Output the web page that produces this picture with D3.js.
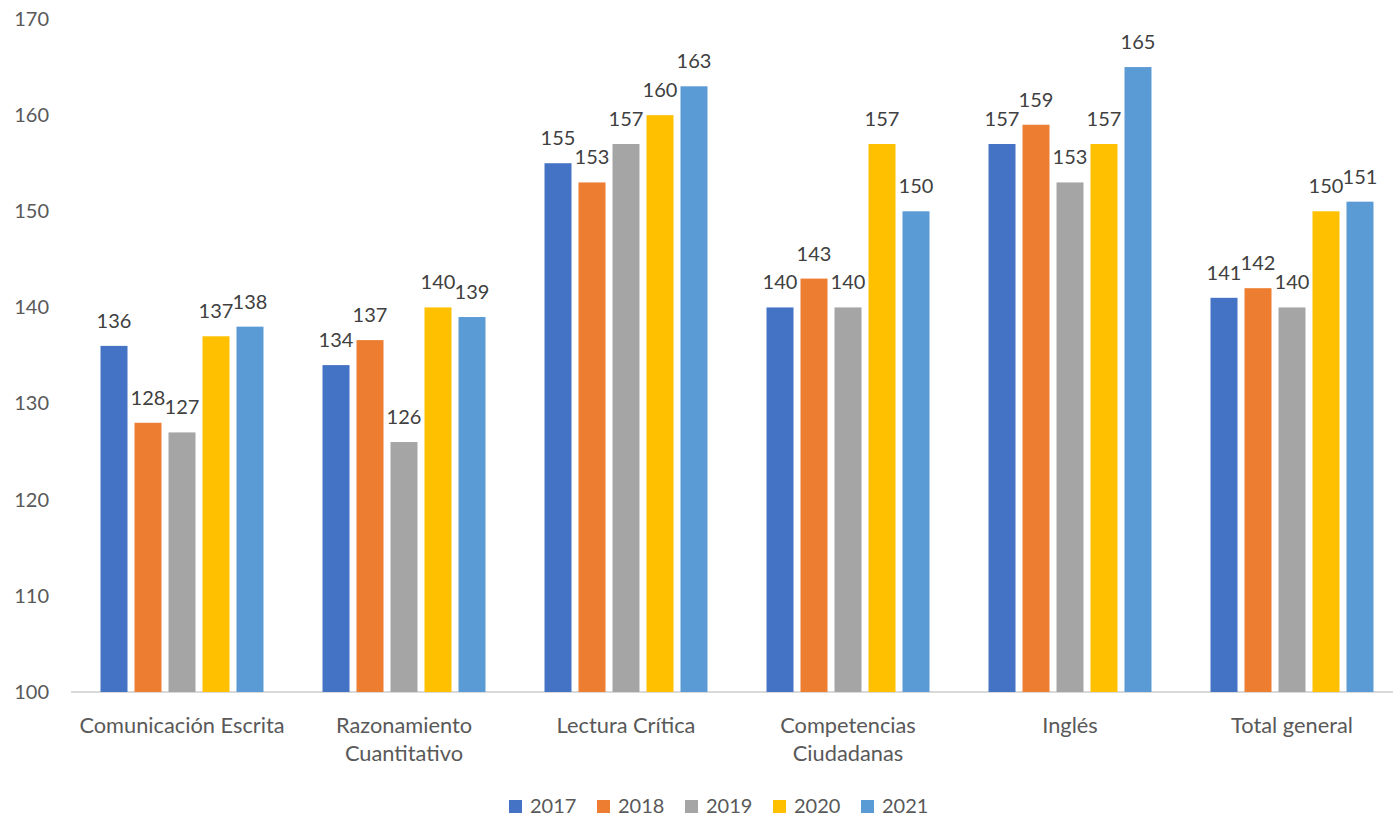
<!DOCTYPE html>
<html><head><meta charset="utf-8">
<script src="https://cdn.jsdelivr.net/npm/d3@7"></script>
<style>html,body{margin:0;padding:0;background:#fff;}svg{display:block;font-family:Lato,"Open Sans",sans-serif;}</style>
</head><body><svg id="c" width="1393" height="817"></svg>
<script>
const categories = [["Comunicación Escrita"],["Razonamiento","Cuantitativo"],["Lectura Crítica"],["Competencias","Ciudadanas"],["Inglés"],["Total general"]];
const years = ["2017","2018","2019","2020","2021"];
const colors = ["#4472C4","#ED7D31","#A5A5A5","#FFC000","#5B9BD5"];
const v2017 = [136,134,155,140,157,141];
const v2018 = [128,136.6,153,143,159,142];
const v2019 = [127,126,157,140,153,140];
const v2020 = [137,140,160,157,157,150];
const v2021 = [138,139,163,150,165,151];
const yTicks = [100,110,120,130,140,150,160,170];
const series = [v2017,v2018,v2019,v2020,v2021];

const svg = d3.select("#c");
const catKeys = categories.map(c=>c.join(" "));
const x0 = d3.scaleBand().domain(catKeys).range([71,1403]).padding(0);
const x1 = d3.scaleBand().domain(years).range([0,x0.bandwidth()]).paddingInner(0.206).paddingOuter(0.868);
const y = d3.scaleLinear().domain([100,170]).range([692,19]);

// y tick labels
const yAxis = d3.axisLeft(y).tickValues(yTicks).tickSize(0).tickPadding(0);
const ya = svg.append("g").attr("transform","translate(49,0)").call(yAxis);
ya.select(".domain").remove();
ya.selectAll("text").attr("fill","#595959").style("font-size","20px").style("font-family","Lato");

// baseline
svg.append("line").attr("x1",71).attr("x2",1393).attr("y1",y(100)).attr("y2",y(100)).attr("stroke","#D9D9D9").attr("stroke-width",2);

// bars
categories.forEach((c,i)=>{
  const g = svg.append("g").attr("transform",`translate(${x0(catKeys[i])},0)`);
  years.forEach((yr,j)=>{
    const v = series[j][i];
    g.append("rect").attr("x",x1(yr)).attr("width",x1.bandwidth()).attr("y",y(v)).attr("height",y(100)-y(v)).attr("fill",colors[j]);
    g.append("text").attr("x",x1(yr)+x1.bandwidth()/2).attr("y",y(v)-18).attr("text-anchor","middle")
      .attr("fill","#404040").style("font-size","20px").text(d3.format(".0f")(v));
  });
  const t = svg.append("text").attr("x",x0(catKeys[i])+x0.bandwidth()/2).attr("y",733).attr("text-anchor","middle")
    .attr("fill","#595959").style("font-size","21.8px");
  c.forEach((line,k)=>t.append("tspan").attr("x",x0(catKeys[i])+x0.bandwidth()/2).attr("dy",k===0?0:28).text(line));
});

// legend
const lg = svg.append("g");
years.forEach((yr,j)=>{
  const lx = 509 + j*88;
  lg.append("rect").attr("x",lx).attr("y",800).attr("width",13).attr("height",13).attr("fill",colors[j]);
  lg.append("text").attr("x",lx+21).attr("y",813).attr("fill","#595959").style("font-size","20px").text(yr);
});
</script></body></html>
